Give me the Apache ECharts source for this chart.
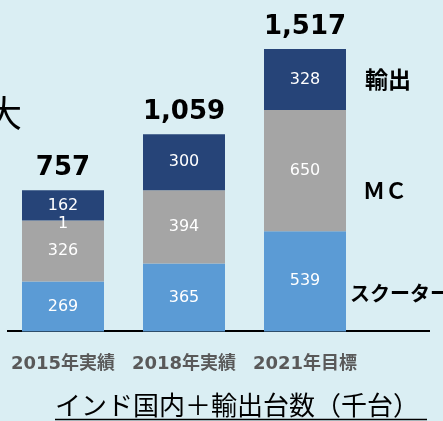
<!DOCTYPE html>
<html>
<head>
    <meta charset="UTF-8">
    <title>インド国内＋輸出台数</title>
    <script src="https://cdn.jsdelivr.net/npm/echarts@6/dist/echarts.min.js"></script>
    <style>
        html, body { margin: 0; padding: 0; background: #daeef3; }
        #main { width: 443px; height: 421px; }
    </style>
</head>
<body>
<div id="main"></div>
<script type="text/javascript">
    // データ（千台）
    var categories = ['2015年実績', '2018年実績', '2021年目標'];
    var scooter = [269, 365, 539];
    var mc = [326, 394, 650];
    var stray = [1, 0, 0];       // 2015年の境目にある「1」
    var exportNum = [162, 300, 328];
    var totals = [757, 1059, 1517];
    var seriesNames = ['スクーター', 'ＭＣ', '輸出'];

    var jp = "'DejaVu Sans', 'Noto Sans CJK JP', sans-serif";

    function inner() {
        return {
            show: true, position: 'inside', color: '#fff',
            fontSize: 16, fontFamily: jp,
            formatter: function (p) { return p.value > 0 ? p.value : ''; }
        };
    }

    var myChart = echarts.init(document.getElementById('main'));
    var option = {
        backgroundColor: '#daeef3',
        animation: false,
        grid: { left: 2.5, right: 77.5, top: 49, bottom: 89.5 },
        xAxis: {
            type: 'category',
            data: categories,
            axisLine: { show: false },
            axisTick: { show: false },
            axisLabel: {
                interval: 0, hideOverlap: false,
                margin: 24, color: '#595959', fontSize: 18, fontWeight: 'bold',
                fontFamily: jp
            }
        },
        yAxis: { type: 'value', min: 0, max: 1517, show: false, splitLine: { show: false } },
        series: [
            { name: seriesNames[0], type: 'bar', stack: 't', barWidth: 82, data: scooter,
              itemStyle: { color: '#5b9bd5' }, label: inner() },
            { name: seriesNames[1], type: 'bar', stack: 't', data: mc,
              itemStyle: { color: '#a5a5a5' }, label: inner() },
            { name: 'stray', type: 'bar', stack: 't', data: stray,
              itemStyle: { color: '#a5a5a5' },
              label: Object.assign(inner(), { offset: [0, 3] }) },
            { name: seriesNames[2], type: 'bar', stack: 't', data: exportNum,
              itemStyle: { color: '#264478' }, label: inner() },
            { name: 'total', type: 'bar', stack: 't', data: [0, 0, 0],
              itemStyle: { color: 'transparent' },
              label: {
                  show: true, position: 'top', distance: 9, color: '#000',
                  fontSize: 26, fontWeight: 'bold', fontFamily: jp,
                  formatter: function (p) { return totals[p.dataIndex].toLocaleString('en-US'); }
              } }
        ],
        graphic: [
            { type: 'line', z: 0, shape: { x1: 7, y1: 331, x2: 430, y2: 331 },
              style: { stroke: '#000', lineWidth: 2 } },
            { type: 'text', x: 4, y: 113,
              style: { text: '大', fill: '#000', font: "36px 'Noto Sans CJK JP'",
                       textAlign: 'center', textVerticalAlign: 'middle' } },
            { type: 'text', x: 365, y: 79,
              style: { text: seriesNames[2], fill: '#000', font: "bold 23px 'Noto Sans CJK JP'",
                       textVerticalAlign: 'middle' } },
            { type: 'text', x: 363, y: 191,
              style: { text: seriesNames[1], fill: '#000', font: "bold 22px 'Noto Sans CJK JP'",
                       textVerticalAlign: 'middle' } },
            { type: 'text', x: 350, y: 293,
              style: { text: seriesNames[0], fill: '#000', font: "bold 20px 'Noto Sans CJK JP'",
                       textVerticalAlign: 'middle' } },
            { type: 'text', x: 55, y: 405,
              style: { text: 'インド国内＋輸出台数（千台）', fill: '#000',
                       font: "26px 'Noto Sans CJK JP'", textVerticalAlign: 'middle' } },
            { type: 'line', shape: { x1: 55, y1: 419.5, x2: 427, y2: 419.5 },
              style: { stroke: '#000', lineWidth: 1.5 } }
        ]
    };
    myChart.setOption(option);
</script>
</body>
</html>
